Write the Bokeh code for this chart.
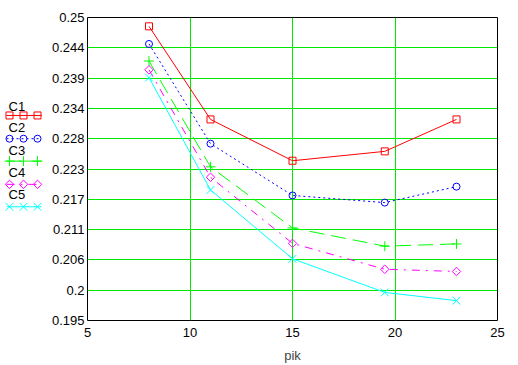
import math
from bokeh.plotting import figure
from bokeh.layouts import row
from bokeh.models import Range1d, FixedTicker
from bokeh.core.properties import value
from bokeh.embed import file_html
from bokeh.resources import INLINE

# ---- data ----
x_pik = [8, 11, 15, 19.5, 23]
c1 = [0.2484, 0.2315, 0.2240, 0.2257, 0.2315]
c2 = [0.2452, 0.2271, 0.2177, 0.2164, 0.2193]
c3 = [0.2421, 0.2229, 0.2118, 0.2085, 0.2089]
c4 = [0.2405, 0.2210, 0.2090, 0.2043, 0.2039]
c5 = [0.2391, 0.2187, 0.2062, 0.2001, 0.1986]
series_names = ["C1", "C2", "C3", "C4", "C5"]
x_ticks = [5, 10, 15, 20, 25]
y_ticks = [0.195, 0.2005, 0.206, 0.2115, 0.217, 0.2225, 0.228, 0.2335, 0.239, 0.2445, 0.25]
y_tick_labels = ["0.195", "0.2", "0.206", "0.211", "0.217", "0.223", "0.228", "0.234", "0.239", "0.244", "0.25"]

FONT = "Liberation Sans"
styles = [
    dict(color="#FF0000", dash="solid", marker="square", size=7, angle=0.0),
    dict(color="#0000FF", dash="2 3", marker="circle", size=7, angle=0.0),
    dict(color="#00FF00", dash="15 7", marker="cross", size=10, angle=0.0),
    dict(color="#FF00FF", dash="8 6 2 6", marker="square", size=6, angle=math.pi / 4),
    dict(color="#00FFFF", dash="solid", marker="x", size=11, angle=0.0),
]
series = [c1, c2, c3, c4, c5]

H = 365

# ---- main figure ----
p = figure(width=470, height=H, output_backend="svg", toolbar_location=None,
           x_range=Range1d(5, 25), y_range=Range1d(0.195, 0.25),
           min_border_left=39, min_border_right=21, min_border_top=17, min_border_bottom=10)
p.background_fill_color = "white"
p.border_fill_color = "white"
p.outline_line_color = "black"
p.outline_line_width = 1

for ys, st in zip(series, styles):
    p.line(x_pik, ys, line_color=st["color"], line_width=1, line_dash=st["dash"])
    p.scatter(x_pik, ys, marker=st["marker"], size=st["size"], angle=st["angle"],
              line_color=st["color"], fill_color=None, line_width=1)

p.xaxis.ticker = FixedTicker(ticks=x_ticks)
p.yaxis.ticker = FixedTicker(ticks=y_ticks)
p.yaxis.major_label_overrides = {t: l for t, l in zip(y_ticks, y_tick_labels)}
p.xgrid.ticker = FixedTicker(ticks=x_ticks)
p.ygrid.ticker = FixedTicker(ticks=y_ticks)
for g in (p.xgrid, p.ygrid):
    g.grid_line_color = "#00E800"
    g.grid_line_width = 1

for ax in (p.xaxis, p.yaxis):
    ax.axis_line_color = None
    ax.major_tick_line_color = None
    ax.minor_tick_line_color = None
    ax.major_tick_out = 0
    ax.major_tick_in = 0
    ax.major_label_text_font = FONT
    ax.major_label_text_font_size = "13px"
    ax.major_label_text_color = "black"
p.yaxis.major_label_standoff = 3
p.xaxis.major_label_standoff = 7
p.xaxis.axis_label = "pik"
p.xaxis.axis_label_text_font = FONT
p.xaxis.axis_label_text_font_size = "13px"
p.xaxis.axis_label_text_font_style = "normal"
p.xaxis.axis_label_standoff = 8

# ---- legend figure (pixel coordinates) ----
lg = figure(width=48, height=H, output_backend="svg", toolbar_location=None,
            x_range=Range1d(0, 48), y_range=Range1d(H, 0),
            min_border=0)
lg.axis.visible = False
lg.grid.visible = False
lg.outline_line_color = None
lg.background_fill_color = "white"
lg.border_fill_color = "white"

text_y = [107, 133, 160, 187, 213]
line_y = [118, 146, 173, 201, 228]
sample_x = [6, 41]
marker_x = [9, 23, 37]
for name, ty, ly, st in zip(series_names, text_y, line_y, styles):
    lg.text(x=[8], y=[ty], text=[name], text_font=value(FONT), text_font_size="13px",
            text_baseline="middle", text_align="left", text_color="black")
    lg.line(sample_x, [ly, ly], line_color=st["color"], line_width=1, line_dash=st["dash"])
    lg.scatter(marker_x, [ly] * 3, marker=st["marker"], size=st["size"], angle=st["angle"],
               line_color=st["color"], fill_color=None, line_width=1)

layout = row(lg, p)
open("out.html", "w").write(file_html(layout, INLINE))
